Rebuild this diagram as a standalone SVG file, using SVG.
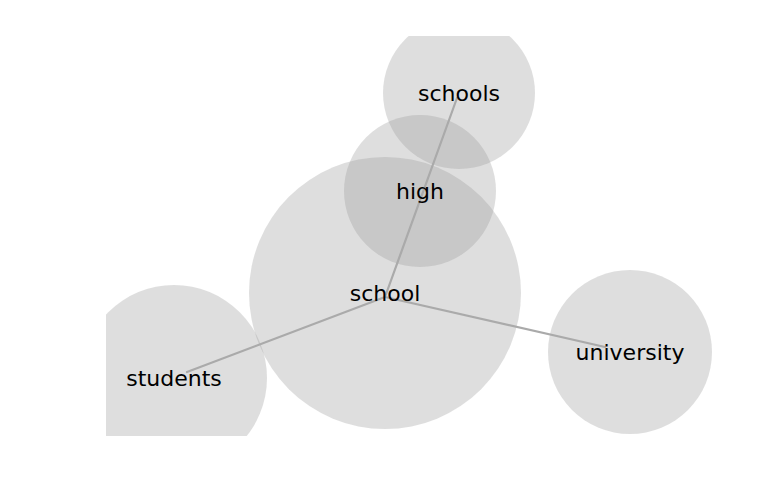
<svg xmlns="http://www.w3.org/2000/svg" width="780" height="500" viewBox="0 0 780 500">
<style>
.c{fill:#9c9c9c;fill-opacity:0.33}
.e{stroke:#aaaaaa;stroke-width:2.2;fill:none;stroke-linecap:round}
text{font-family:"DejaVu Sans",sans-serif;font-size:22px;fill:#000;text-anchor:middle}
</style>
<defs><clipPath id="ax"><rect x="106" y="36" width="674" height="400"/></clipPath></defs>
<rect width="780" height="500" fill="#fff"/>
<g clip-path="url(#ax)">
<g id="node-school"><circle class="c" cx="385" cy="293" r="136"/></g>
<g id="node-high"><circle class="c" cx="420" cy="191" r="76"/></g>
<g id="node-schools"><circle class="c" cx="459" cy="93" r="76"/></g>
<g id="node-university"><circle class="c" cx="630" cy="352" r="82"/></g>
<g id="node-students"><circle class="c" cx="174" cy="378" r="93"/></g>
<g id="edges">
<line class="e" x1="385" y1="297" x2="457" y2="98"/>
<line class="e" x1="385" y1="297" x2="187" y2="372"/>
<line class="e" x1="385" y1="297" x2="605" y2="347"/>
</g>
<g id="labels">
<text x="385" y="301">school</text>
<text x="420" y="199">high</text>
<text x="459" y="101">schools</text>
<text x="630" y="360">university</text>
<text x="174" y="386">students</text>
</g>
</g>
</svg>
